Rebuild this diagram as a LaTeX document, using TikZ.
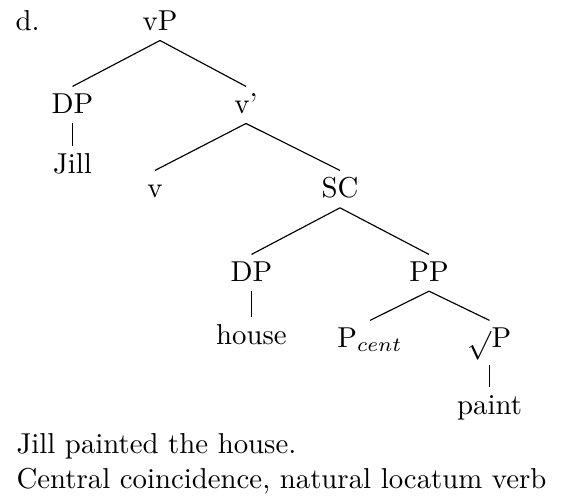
\documentclass[tikz,border=0pt]{standalone}
\usepackage{amsmath}
\usepackage{amssymb}
\usepackage{tikz}

\tikzset{cat/.style={anchor=base,text height=5.7pt}, txt/.style={anchor=base west,inner sep=0pt}}

\begin{document}
\begin{tikzpicture}[x=0.3472pt,y=-0.3472pt]
			\useasboundingbox (0,0) rectangle (568,498);
			\node[txt] (ex) at (15,30) {d.};
			
			% nodes of the tree, row by row
			\node[cat] (vP) at (160,30) {vP};
			\node[cat] (DPa) at (72.5,113) {DP};
			\node[cat] (vbar) at (246,113) {v'};
			\node[cat] (jill) at (72.5,173) {Jill};
			\node[cat] (v) at (155,197) {v};
			\node[cat] (SC) at (340,197) {SC};
			\node[cat] (DPb) at (251.5,281) {DP};
			\node[cat] (PP) at (429,281) {PP};
			\node[cat] (house) at (251.5,344) {house};
			\node[cat] (Pcent) at (370,347) {P$_{cent}$};
			\node[cat,text depth=2.6pt] (rootP) at (489.5,347) {$\sqrt{}$P};
			\node[cat] (paint) at (489.5,414) {paint};
			
			% branches
			\draw (vP.south) -- (DPa.north);
			\draw (vP.south) -- (vbar.north);
			\draw (DPa.south) -- (jill.north);
			\draw (vbar.south) -- (v.north);
			\draw (vbar.south) -- (SC.north);
			\draw (SC.south) -- (DPb.north);
			\draw (SC.south) -- (PP.north);
			\draw (DPb.south) -- (house.north);
			\draw (PP.south) -- (Pcent.north);
			\draw (PP.south) -- (rootP.north);
			\draw (rootP.south) -- (paint.north);
			
			\node[txt] (sent) at (16,453) {Jill painted the house.};
			\node[txt] (gloss) at (16,488) {Central coincidence, natural locatum verb};
			
		\end{tikzpicture}
\end{document}
